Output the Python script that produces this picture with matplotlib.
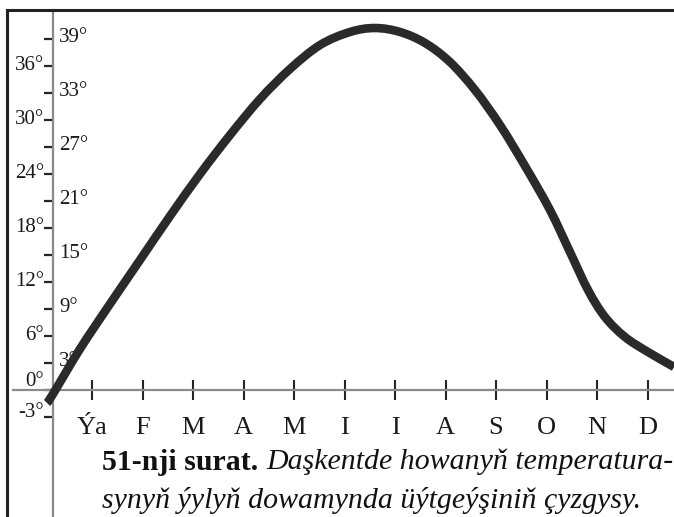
import matplotlib
matplotlib.use("Agg")
import matplotlib.pyplot as plt
from matplotlib.lines import Line2D
from matplotlib.path import Path
from matplotlib.patches import PathPatch
from matplotlib.transforms import blended_transform_factory

# Monthly axis labels (Turkmen month initials)
months = ["Ýa", "F", "M", "A", "M", "I", "I", "A", "S", "O", "N", "D"]
month_pos = list(range(1, 13))

# Temperature ticks on the vertical axis (degrees C)
y_ticks = list(range(-3, 40, 3))
y_left_labels = [-3, 0, 6, 12, 18, 24, 30, 36]
y_right_labels = [3, 9, 15, 21, 27, 33, 39]

# Annual temperature curve for Tashkent (month position, degrees)
curve_x = [0.109, 0.228, 0.762, 1.356, 1.950, 2.545, 3.139, 3.733, 4.327,
           4.921, 5.515, 6.109, 6.604, 7.099, 7.594, 8.089, 8.584, 9.079,
           9.574, 10.069, 10.465, 10.822, 11.158, 11.554, 12.010, 12.525]
curve_t = [-1.44, -0.44, 4.56, 9.56, 14.44, 19.33, 24.0, 28.33, 32.33,
           35.67, 38.33, 39.78, 40.22, 39.78, 38.56, 36.44, 33.33, 29.44,
           24.89, 20.0, 15.33, 11.11, 8.11, 5.89, 4.22, 2.56]

caption_bold = "51-nji surat."
caption_line1 = "Daşkentde howanyň temperatura-"
caption_line2 = "synyň ýylyň dowamynda üýtgeýşiniň çyzgysy."

W, H = 674, 517
fig = plt.figure(figsize=(W / 100, H / 100), dpi=100)
fig.patch.set_facecolor("white")
ax = fig.add_axes([0, 0, 1, 1])
ax.set_facecolor("white")

# month m sits at 92 + 50.5*(m-1) px, temperature t at 390 - 9*t px from the top
ax.set_xlim(1 - 92 / 50.5, 1 + (W - 92) / 50.5)
ax.set_ylim(-(H - 390) / 9.0, 390 / 9.0)

serif = "Liberation Serif"
axis_grey = "#8a8a8a"
ink = "#262626"
text_col = "#1a1a1a"

for s in ("top", "right"):
    ax.spines[s].set_visible(False)
x_axis_pos = 1 - 39 / 50.5
ax.spines["left"].set_position(("data", x_axis_pos))
ax.spines["left"].set_bounds(-(H - 390) / 9.0, 380 / 9.0)
ax.spines["left"].set_color(axis_grey)
ax.spines["left"].set_linewidth(1.6)
ax.spines["bottom"].set_position(("data", 0))
ax.spines["bottom"].set_bounds(1 + (13 - 92) / 50.5, 1 + (W - 92) / 50.5)
ax.spines["bottom"].set_color(axis_grey)
ax.spines["bottom"].set_linewidth(1.6)

ax.set_yticks(y_ticks)
ax.tick_params(axis="y", direction="out", length=6.5, width=1.6, color=ink,
               labelleft=False)
ax.set_xticks(month_pos)
ax.tick_params(axis="x", direction="inout", length=14.5, width=1.5, color=ink,
               labelbottom=False)


def smooth_path(xs, ys):
    """Cubic Bezier path through the points (Catmull-Rom tangents)."""
    pts = list(zip(xs, ys))
    n = len(pts)
    verts = [pts[0]]
    codes = [Path.MOVETO]
    for i in range(n - 1):
        p0 = pts[max(i - 1, 0)]
        p1 = pts[i]
        p2 = pts[i + 1]
        p3 = pts[min(i + 2, n - 1)]
        c1 = (p1[0] + (p2[0] - p0[0]) / 6, p1[1] + (p2[1] - p0[1]) / 6)
        c2 = (p2[0] - (p3[0] - p1[0]) / 6, p2[1] - (p3[1] - p1[1]) / 6)
        verts += [c1, c2, p2]
        codes += [Path.CURVE4] * 3
    return Path(verts, codes)


ax.add_patch(PathPatch(smooth_path(curve_x, curve_t), facecolor="none",
                       edgecolor="#2a2a2a", lw=6.2, capstyle="butt",
                       joinstyle="round", zorder=5))

# tick labels on both sides of the vertical axis
tr_y = blended_transform_factory(ax.transAxes, ax.transData)
for v in y_left_labels:
    dy = 0.9 if v == 0 else (0.5 if v == -3 else 0)
    ax.text(44 / W, v + dy, f"{v}°", transform=tr_y, ha="right", va="center",
            fontsize=15, family=serif, color=text_col)
for v in y_right_labels:
    ax.text(59 / W, v + 0.2, f"{v}°", transform=tr_y, ha="left", va="center",
            fontsize=15, family=serif, color=text_col)

tr_x = blended_transform_factory(ax.transData, ax.transAxes)
for m, lab in zip(month_pos, months):
    ax.text(m, 1 - 428 / H, lab, transform=tr_x, ha="center", va="center",
            fontsize=19, family=serif, color=text_col)

# page frame
fig.add_artist(Line2D([7 / W, 1], [1 - 10 / H, 1 - 10 / H], transform=fig.transFigure,
                      color="#222222", lw=2.2))
fig.add_artist(Line2D([7 / W, 7 / W], [0, 1 - 10 / H], transform=fig.transFigure,
                      color="#222222", lw=2.2))

# caption
fig.canvas.draw()
renderer = fig.canvas.get_renderer()
cx, cy1, cy2 = 102 / W, 1 - 462 / H, 1 - 500 / H
tb = fig.text(cx, cy1, caption_bold, fontsize=21.5, family=serif, weight="bold",
              va="center", ha="left", color="#111111")
bb = tb.get_window_extent(renderer)
fig.text((bb.x1 + 8) / W, cy1, caption_line1, fontsize=21.5, family=serif,
         style="italic", va="center", ha="left", color="#111111")
fig.text(cx, cy2, caption_line2, fontsize=21.5, family=serif, style="italic",
         va="center", ha="left", color="#111111")

fig.savefig("out.png", dpi=100, facecolor="white")
